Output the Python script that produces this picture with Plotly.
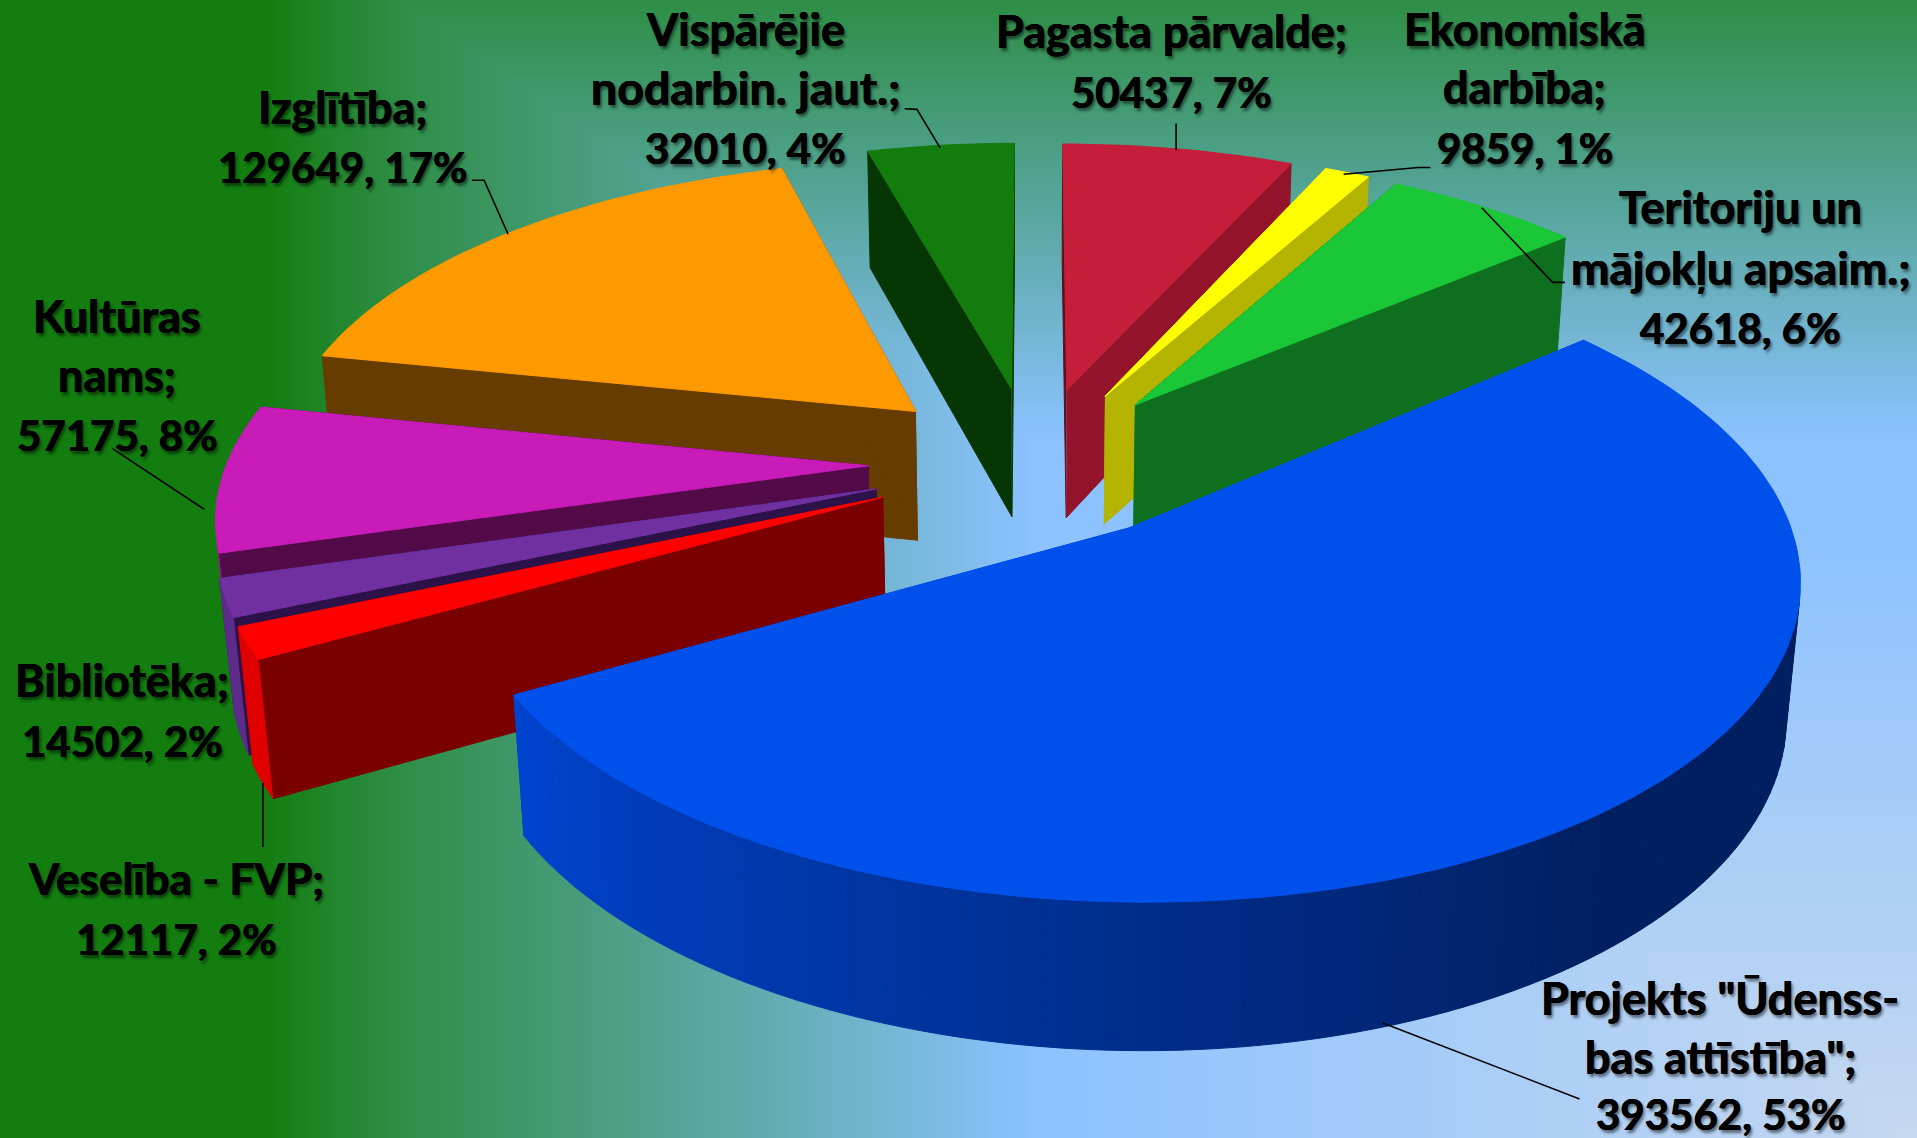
import base64, struct, zlib
import numpy as np
import plotly.graph_objects as go

# ---- data (clockwise from the top, first slice at 0 degrees) ----
names = ["Pagasta", "Ekon", "Terit", "Proj", "Vesel", "Bibl", "Kult", "Izgl", "Visp"]
values = [50437, 9859, 42618, 393562, 12117, 14502, 57175, 129649, 32010]
top_colors = ["#C41E3A", "#FFFF00", "#19C737", "#0050EC", "#FF0000", "#7030A0", "#C81BB8", "#FF9900", "#127C0C"]
wall_colors = ["#93142A", "#B3B300", "#0E6F1F", "#0044D0", "#7A0000", "#2C1248", "#520A48", "#663C00", "#073605"]
outer_colors = ["#93142A", "#B3B300", "#0E6F1F", "#0044D0", "#E00000", "#5D2C8A", "#A0159A", "#CC7A00", "#0E5F0A"]
draw_order = ["Visp", "Pagasta", "Ekon", "Terit", "Izgl", "Kult", "Bibl", "Vesel", "Proj"]

label_lines = {
    "Visp": (610, [25, 73, 121], ["Vispārējie", "nodarbin. jaut.;", "32010, 4%"]),
    "Pagasta": (958, [27, 75], ["Pagasta pārvalde;", "50437, 7%"]),
    "Ekon": (1247, [25, 73, 121], ["Ekonomiskā", "darbība;", "9859, 1%"]),
    "Terit": (1424, [171, 220, 268], ["Teritoriju un", "mājokļu apsaim.;", "42618, 6%"]),
    "Proj": (1407, [818, 866, 911], ["Projekts \"Ūdenss-", "bas attīstība\";", "393562, 53%"]),
    "Vesel": (144, [720, 768], ["Veselība - FVP;", "12117, 2%"]),
    "Bibl": (100, [558, 606], ["Bibliotēka;", "14502, 2%"]),
    "Kult": (96, [260, 308, 356], ["Kultūras", "nams;", "57175, 8%"]),
    "Izgl": (280, [89, 137], ["Izglītība;", "129649, 17%"]),
}
line_sizes = {"Veselība - FVP;": 44, "nodarbin. jaut.;": 46.5, "mājokļu apsaim.;": 46}
leader_x = [[740, 750, 769], [962, 962], [1170, 1160, 1099], [1280, 1270, 1212],
            [1131, 1292], [215, 215], [92, 167], [386, 396, 415.6]]
leader_y = [[89, 89.5, 121], [101, 123], [137, 137, 142.6], [231, 231, 170],
            [837, 899], [640.6, 693], [367, 416.6], [147.5, 147.5, 191.6]]

# ---- view of the tilted pie ----
X0, Y0, FOCAL, DIST = 845.0, 378.5, 3255.0, 6.2
SIN_E, COS_E = 0.468, 0.884
EXPLODE, HEIGHT = 0.256, 0.235


def project(x, y, z):
    depth = y * COS_E - z * SIN_E + DIST
    return X0 + FOCAL * x / depth, Y0 - FOCAL * (y * SIN_E + z * COS_E) / depth


def poly(fig, x, y, color):
    fig.add_trace(go.Scatter(x=x, y=y, mode="lines", fill="toself", fillcolor=color,
                             line=dict(color=color, width=1), hoverinfo="skip", showlegend=False))


def mix(a, b, t):
    ca = np.array([int(a[i:i + 2], 16) for i in (1, 3, 5)], float)
    cb = np.array([int(b[i:i + 2], 16) for i in (1, 3, 5)], float)
    c = ca + (cb - ca) * t
    return "rgb(%d,%d,%d)" % tuple(np.round(c))


# ---- background gradient as a picture ----
W, H = 960, 570
xx, yy = np.meshgrid(np.linspace(0, 1917, W), np.linspace(0, 1138, H))
t = np.minimum((xx - 260) / 770, 0.18 + yy / 530).clip(0, 1)
stops_t = [0, 0.18, 0.55, 1]
stops_c = np.array([[0x13, 0x7D, 0x0F], [0x2E, 0x8E, 0x46], [0x55, 0xA5, 0x99], [0x8B, 0xC2, 0xFF]], float)
rgb = np.stack([np.interp(t, stops_t, stops_c[:, i]) for i in range(3)], axis=-1)
t2 = np.minimum((xx - 1030) / 887, (yy - 520) / 618).clip(0, 1)[..., None]
rgb = rgb + (np.array([0xC5, 0xD8, 0xF0], float) - rgb) * t2
rgb = rgb.round().astype(np.uint8)
raw = b"".join(b"\x00" + rgb[r].tobytes() for r in range(H))


def chunk(tag, data):
    body = tag + data
    return struct.pack(">I", len(data)) + body + struct.pack(">I", zlib.crc32(body))


png = b"\x89PNG\r\n\x1a\n" + chunk(b"IHDR", struct.pack(">IIBBBBB", W, H, 8, 2, 0, 0, 0)) \
    + chunk(b"IDAT", zlib.compress(raw, 9)) + chunk(b"IEND", b"")
bg_uri = "data:image/png;base64," + base64.b64encode(png).decode()

# ---- wedges, computed from the values ----
fig = go.Figure()
total = sum(values)
ends = np.cumsum(values) / total * 2 * np.pi
starts = np.concatenate([[0], ends[:-1]])

for name in draw_order:
    i = names.index(name)
    a0, a1 = starts[i], ends[i]
    mid = (a0 + a1) / 2
    ox, oy = EXPLODE * np.sin(mid), EXPLODE * np.cos(mid)
    th = np.linspace(a0, a1, max(int((a1 - a0) / np.radians(1.5)), 4))
    ax, ay = ox + np.sin(th), oy + np.cos(th)

    # radial walls
    for a in (a0, a1):
        xs = np.array([ox, ox + np.sin(a), ox + np.sin(a), ox])
        ys = np.array([oy, oy + np.cos(a), oy + np.cos(a), oy])
        zs = np.array([0, 0, -HEIGHT, -HEIGHT])
        px, py = project(xs, ys, zs)
        col = "#5F0E1C" if (name == "Pagasta" and a == a0) else wall_colors[i]
        poly(fig, px, py, col)

    # outer wall: only the part of the rim that faces the viewer
    facing = np.sin(th) * (-ax) + np.cos(th) * (-DIST * COS_E - ay) > 0
    vis = np.flatnonzero(facing)
    if vis.size >= 2:
        if name == "Proj":
            for k in vis[:-1]:
                s = (a1 - th[k]) / np.radians(100)
                col = mix("#0044D0", "#001F60", float(np.clip(s, 0, 1)))
                xs = [ax[k], ax[k + 1], ax[k + 1], ax[k], ax[k]]
                ys = [ay[k], ay[k + 1], ay[k + 1], ay[k], ay[k]]
                zs = [0, 0, -HEIGHT, -HEIGHT, 0]
                px, py = project(np.array(xs), np.array(ys), np.array(zs, float))
                poly(fig, px, py, col)
        else:
            rx, ry = ax[vis], ay[vis]
            xs = np.concatenate([rx, rx[::-1]])
            ys = np.concatenate([ry, ry[::-1]])
            zs = np.concatenate([np.zeros_like(rx), -HEIGHT * np.ones_like(rx)])
            px, py = project(xs, ys, zs)
            poly(fig, px, py, outer_colors[i])

    # top face
    xs = np.concatenate([[ox], ax, [ox]])
    ys = np.concatenate([[oy], ay, [oy]])
    px, py = project(xs, ys, np.zeros_like(xs))
    poly(fig, px, py, top_colors[i])

# ---- leader lines ----
for lx, ly in zip(leader_x, leader_y):
    fig.add_trace(go.Scatter(x=lx, y=ly, mode="lines", line=dict(color="black", width=1.6),
                             hoverinfo="skip", showlegend=False))

# ---- labels ----
annotations = []
for name, (cx, ys, lines) in label_lines.items():
    for yy_, text in zip(ys, lines):
        has_number = any(ch.isdigit() for ch in text)
        size = 42 if has_number else line_sizes.get(text, 45)
        annotations.append(dict(x=cx, y=yy_ - (0 if has_number else 1.5), xref="x", yref="y",
                                text="<b>%s</b>" % text, showarrow=False,
                                xanchor="center", yanchor="middle",
                                font=dict(family="Lato", size=size, color="black",
                                          shadow="0.5px 0 0 black, -0.5px 0 0 black, 2px 3px 3px rgba(0,0,0,0.5)")))

fig.update_layout(
    width=1917, height=1138, margin=dict(l=0, r=0, t=0, b=0), autosize=False,
    paper_bgcolor="rgba(0,0,0,0)", plot_bgcolor="rgba(0,0,0,0)", showlegend=False,
    xaxis=dict(range=[0, 1568], visible=False, fixedrange=True),
    yaxis=dict(range=[931, 0], visible=False, fixedrange=True),
    annotations=annotations,
    images=[dict(source=bg_uri, xref="paper", yref="paper", x=0, y=1, sizex=1, sizey=1,
                 xanchor="left", yanchor="top", sizing="stretch", layer="below")],
)
fig.write_html("out.html", config={"displayModeBar": False},
               post_script="document.body.style.margin='0';document.body.style.overflow='hidden';")
